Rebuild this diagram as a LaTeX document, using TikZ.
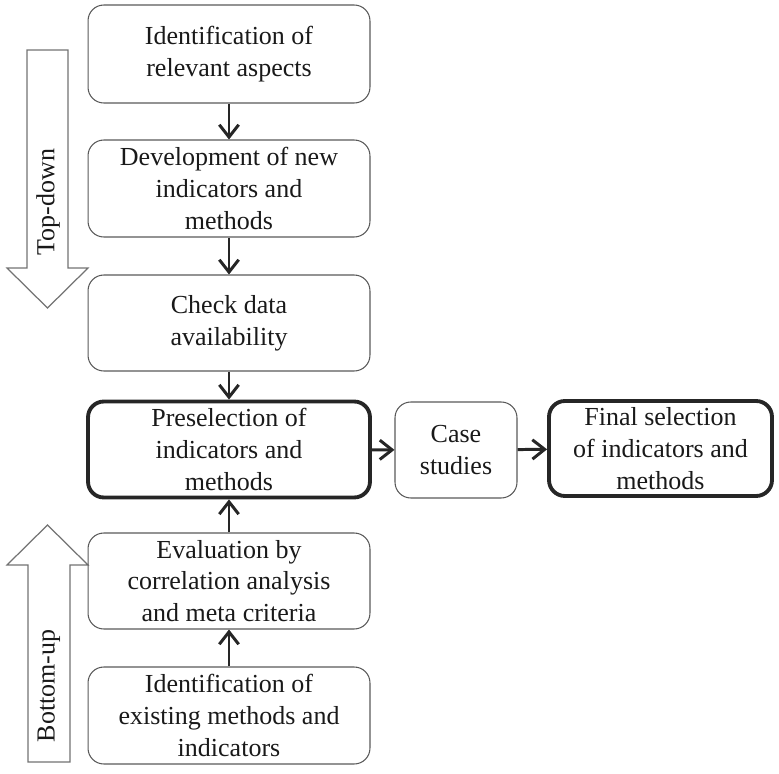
\documentclass[tikz,border=0pt]{standalone}
\usepackage{fontspec}
\setmainfont{Liberation Serif}
\usetikzlibrary{arrows.meta}
\tikzset{>={Straight Barb[length=7pt,width=11pt]}}
\tikzset{
  stepbox/.style={draw=black!65, line width=0.6pt, rounded corners=9pt, align=center,
    text=black!90, font=\fontsize{14.8}{18}\selectfont, inner sep=0pt},
  keybox/.style={stepbox, draw=black!85, line width=2.2pt},
  flow/.style={->, line width=1.7pt, draw=black!85},
  bigarrow/.style={draw=black!55, line width=0.7pt, fill=white}
}

\begin{document}
\begin{tikzpicture}[x=0.02cm, y=-0.02cm]
\useasboundingbox (0,0) rectangle (779,774);
% top-down / bottom-up arrows
\draw[bigarrow] (27,50) -- (68,50) -- (68,268) -- (88,268) -- (47.5,308) -- (7,268) -- (27,268) -- cycle;
\node[rotate=90, text=black!90, font=\fontsize{14.8}{18}\selectfont] (td) at (48,202) {Top-down};
\draw[bigarrow] (28,762) -- (70,762) -- (70,565) -- (88,565) -- (47.5,525) -- (7,565) -- (28,565) -- cycle;
\node[rotate=90, text=black!90, font=\fontsize{14.8}{18}\selectfont] (bu) at (49,686) {Bottom-up};
% main steps
\node[stepbox, minimum width=5.64cm, minimum height=1.96cm] (relev) at (229,54) {Identification of\\relevant aspects};
\node[stepbox, minimum width=5.64cm, minimum height=1.94cm] (devel) at (229,188.5) {Development of new\\indicators and\\methods};
\node[stepbox, minimum width=5.64cm, minimum height=1.92cm] (check) at (229,323) {Check data\\availability};
\node[keybox, minimum width=5.64cm, minimum height=1.92cm] (presel) at (229,449.5) {Preselection of\\indicators and\\methods};
\node[stepbox, minimum width=5.64cm, minimum height=1.92cm] (evalu) at (229,581) {Evaluation by\\correlation analysis\\and meta criteria};
\node[stepbox, minimum width=5.64cm, minimum height=1.94cm] (exist) at (229,715.5) {Identification of\\existing methods and\\indicators};
\node[stepbox, minimum width=2.44cm, minimum height=1.92cm] (case) at (456,450) {Case\\studies};
\node[keybox, minimum width=4.46cm, minimum height=1.90cm] (final) at (660.5,448.5) {Final selection\\of indicators and\\methods};
% connectors
\draw[flow] (relev) -- (devel);
\draw[flow] (devel) -- (check);
\draw[flow] (check) -- (presel);
\draw[flow] (exist) -- (evalu);
\draw[flow] (evalu) -- (presel);
\draw[flow] (presel) -- (case);
\draw[flow] (case) -- (final);
\end{tikzpicture}
\end{document}
